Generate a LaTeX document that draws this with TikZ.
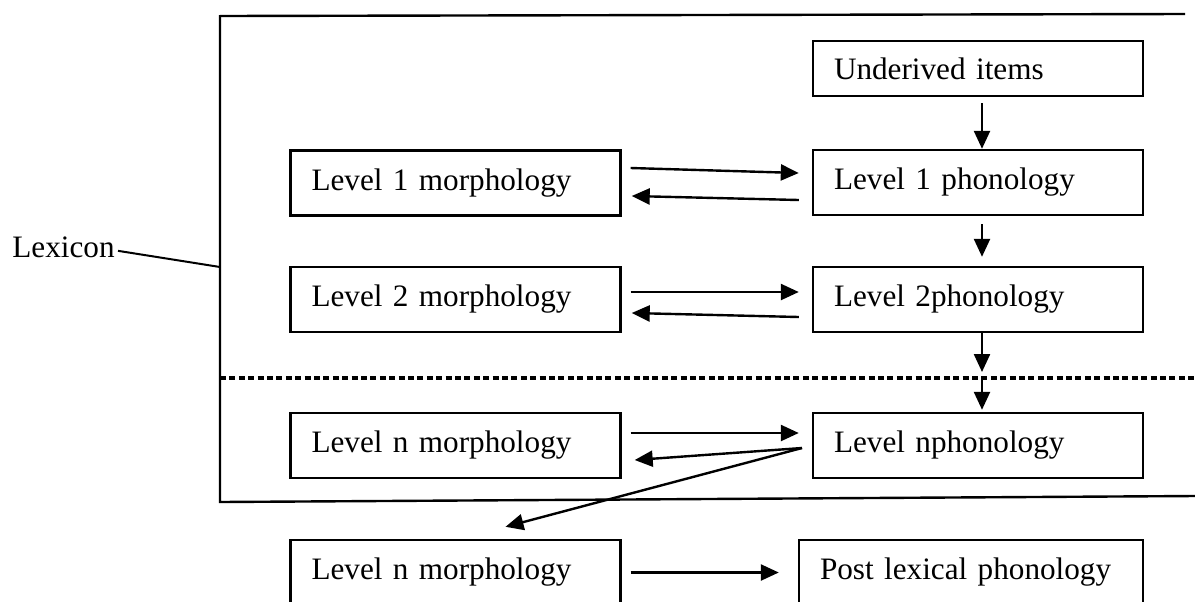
\documentclass[tikz,border=0pt]{standalone}
\usepackage{fontspec}
\setmainfont{Liberation Serif}
\usetikzlibrary{arrows.meta}
\begin{document}
\begin{tikzpicture}[x=0.5pt, y=-0.5pt,
    font=\fontsize{15.6}{19}\selectfont,
    box/.style={draw, line width=1.2pt, rectangle, minimum width=165pt,
      minimum height=32.5pt, text width=144pt, align=left, inner xsep=10.5pt},
    arr/.style={line width=1.2pt, -{Triangle[length=9pt,width=8pt]}},
    frame/.style={line width=1.2pt}]
  \useasboundingbox (0,0) rectangle (1195,601);
  \clip (0,0) rectangle (1195,601);
  % lexicon frame
  \draw [frame] (220,16) -- (1185,14);
  \draw [frame] (220,15) -- (220,502) -- (1195,496);
  \draw [line width=1.6pt, dash pattern=on 3pt off 1.7pt] (220,378) -- (1195,378);
  \node [anchor=base west, inner sep=0pt] (lex) at (12,257) {Lexicon};
  \coordinate (lexend) at (220,267);
  \draw [line width=1pt] ([xshift=1.5pt,yshift=-2pt]lex.east) -- (lexend);
  % morphology
  \node [box] (m1) at (455.5,183) {Level 1 morphology};
  \node [box] (m2) at (455.5,299.5) {Level 2 morphology};
  \node [box] (mn) at (455.5,445.5) {Level n morphology};
  \node [box] (mpost) at (455.5,572.5) {Level n morphology};
  % phonology
  \node [box, minimum height=27.5pt] (u) at (978,68.5) {Underived items};
  \node [box] (p1) at (978,182.5) {Level 1 phonology};
  \node [box] (p2) at (978,299.5) {Level 2phonology};
  \node [box] (pn) at (978,445.5) {Level nphonology};
  \node [box, minimum width=172pt, text width=151pt] (post) at (971,572.5) {Post lexical phonology};
  \coordinate (d1) at (982,372);
  \coordinate (d2) at (982,376);
  \coordinate (s) at (802,448);
  % downward
  \draw [arr] ([xshift=2pt,yshift=-3pt]u.south) -- ([xshift=2pt]p1.north);
  \draw [arr] ([xshift=2pt,yshift=-4pt]p1.south) -- ([xshift=2pt,yshift=4.5pt]p2.north);
  \draw [arr] ([xshift=2pt]p2.south) -- (d1);
  \draw [arr] (d2) -- ([xshift=2pt,yshift=1pt]pn.north);
  % between levels
  \draw [arr] ([xshift=4.5pt,yshift=7.5pt]m1.east) -- ([xshift=-6.5pt,yshift=4.75pt]p1.west);
  \draw [arr] ([xshift=-6.5pt,yshift=-8.75pt]p1.west) -- ([xshift=5pt,yshift=-6.5pt]m1.east);
  \draw [arr] ([xshift=4.5pt,yshift=3.75pt]m2.east) -- ([xshift=-6.5pt,yshift=3.75pt]p2.west);
  \draw [arr] ([xshift=-6.5pt,yshift=-8.75pt]p2.west) -- ([xshift=5pt,yshift=-6.75pt]m2.east);
  \draw [arr] ([xshift=4.5pt,yshift=6.25pt]mn.east) -- ([xshift=-6.5pt,yshift=6.25pt]pn.west);
  \draw [arr] (s) -- ([xshift=6.5pt,yshift=-7.25pt]mn.east);
  \draw [arr] (s) -- ([xshift=25pt,yshift=6pt]mpost.north);
  \draw [arr] ([xshift=4.5pt]mpost.east) -- ([xshift=-9.5pt]post.west);
\end{tikzpicture}
\end{document}
